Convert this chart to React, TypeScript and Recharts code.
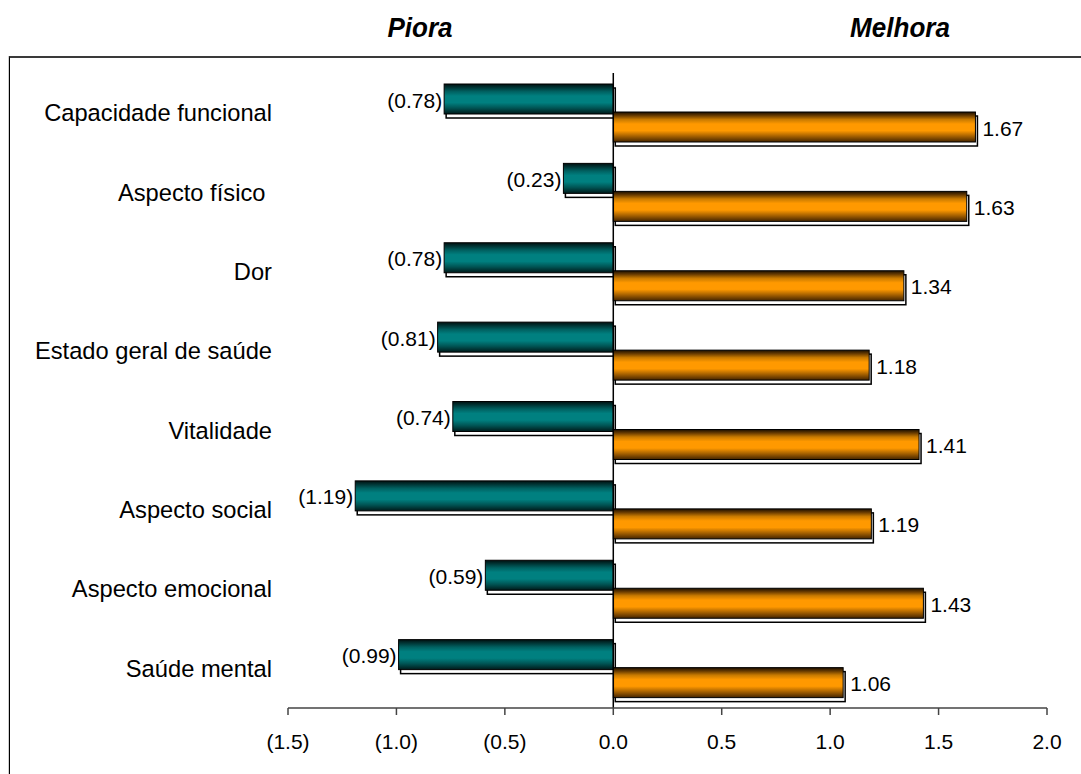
import React from "react";
import { BarChart, Bar, XAxis, YAxis, ReferenceLine, LabelList } from "recharts";

// Dimensions (SF-36) and the change score in each direction
const categories = [
  "Capacidade funcional",
  "Aspecto físico ",
  "Dor",
  "Estado geral de saúde",
  "Vitalidade",
  "Aspecto social",
  "Aspecto emocional",
  "Saúde mental",
];
const piora = [-0.78, -0.23, -0.78, -0.81, -0.74, -1.19, -0.59, -0.99];
const melhora = [1.67, 1.63, 1.34, 1.18, 1.41, 1.19, 1.43, 1.06];
const xTicks = [-1.5, -1.0, -0.5, 0, 0.5, 1.0, 1.5, 2.0];
const titles = { left: "Piora", right: "Melhora" };

const data = categories.map((name, i) => ({ name, piora: piora[i], melhora: melhora[i] }));

const FONT = "'Liberation Sans', Arial, Helvetica, sans-serif";

const fmt = (v: number, digits: number) =>
  v < 0 ? `(${Math.abs(v).toFixed(digits)})` : v.toFixed(digits);

// Bar with an offset white "shadow" box and a banded vertical gradient
const makeShape = (gradId: string) => (props: any) => {
  const { x, y, width, height } = props;
  const x0 = Math.min(x, x + width);
  const w = Math.abs(width);
  return (
    <g>
      <rect x={x0 + 2} y={y + 4} width={w} height={height} fill="#fff" stroke="#000" strokeWidth={1.5} />
      <rect x={x0} y={y} width={w} height={height} fill={`url(#${gradId})`} stroke="#000" strokeWidth={1} />
    </g>
  );
};

const makeLabel = (side: "left" | "right") => (props: any) => {
  const { x, y, width, height, value } = props;
  const x0 = Math.min(x, x + width);
  const w = Math.abs(width);
  const cy = y + height / 2;
  return (
    <text
      x={side === "left" ? x0 - 2 : x0 + w + 7}
      y={cy + 8.5}
      textAnchor={side === "left" ? "end" : "start"}
      fontSize={21}
      fontFamily={FONT}
      fill="#000"
    >
      {fmt(Number(value), 2)}
    </text>
  );
};

const CategoryTick = (props: any) => {
  const { x, y, payload } = props;
  return (
    <text
      x={x}
      y={y + 8.5}
      textAnchor="end"
      fontSize={23.7}
      fontFamily={FONT}
      fill="#000"
      style={{ whiteSpace: "pre" }}
    >
      {payload.value}
    </text>
  );
};

const titleStyle: React.CSSProperties = {
  position: "absolute",
  width: 200,
  top: 11,
  textAlign: "center",
  fontSize: 28,
  fontWeight: "bold",
  fontStyle: "italic",
  lineHeight: "34px",
  transform: "scaleX(0.93)",
};

export default function App() {
  return (
    <div
      style={{
        position: "absolute",
        left: 0,
        top: 0,
        width: 1081,
        height: 774,
        overflow: "hidden",
        background: "#fff",
        fontFamily: FONT,
      }}
    >
      <svg width={0} height={0} style={{ position: "absolute" }}>
        <defs>
          <linearGradient id="gradTeal" x1="0" y1="0" x2="0" y2="1">
            <stop offset="0%" stopColor="#001010" />
            <stop offset="12%" stopColor="#003636" />
            <stop offset="25%" stopColor="#006060" />
            <stop offset="40%" stopColor="#008080" />
            <stop offset="62%" stopColor="#008080" />
            <stop offset="80%" stopColor="#005454" />
            <stop offset="100%" stopColor="#001a1a" />
          </linearGradient>
          <linearGradient id="gradOrange" x1="0" y1="0" x2="0" y2="1">
            <stop offset="0%" stopColor="#1a0e00" />
            <stop offset="12%" stopColor="#6a3c00" />
            <stop offset="25%" stopColor="#c87a00" />
            <stop offset="40%" stopColor="#ff9900" />
            <stop offset="62%" stopColor="#ff9900" />
            <stop offset="80%" stopColor="#a86200" />
            <stop offset="100%" stopColor="#442400" />
          </linearGradient>
        </defs>
      </svg>

      {/* frame */}
      <div
        style={{
          position: "absolute",
          left: 9,
          top: 56,
          width: 1100,
          height: 800,
          borderTop: "2px solid #3a3a3a",
          borderLeft: "1px solid #000",
          boxShadow: "-1px 0 0 #cfcfcf",
        }}
      />

      {/* direction titles */}
      <div style={{ ...titleStyle, left: 320 }}>{titles.left}</div>
      <div style={{ ...titleStyle, left: 800 }}>{titles.right}</div>

      <div style={{ position: "absolute", left: 0, top: 0 }}>
        <BarChart
          width={1081}
          height={774}
          data={data}
          layout="vertical"
          margin={{ top: 73, right: 34, bottom: 36, left: 0 }}
          barSize={30}
          barGap={-2}
        >
          <XAxis
            type="number"
            domain={[-1.5, 2]}
            ticks={xTicks}
            interval={0}
            height={30}
            tickFormatter={(v: number) => fmt(v, 1)}
            axisLine={{ stroke: "#444", strokeWidth: 1.5 }}
            tickLine={{ stroke: "#444", strokeWidth: 1.5 }}
            tickSize={7}
            tickMargin={19}
            tick={{ fontSize: 21, fill: "#000", fontFamily: FONT }}
            allowDataOverflow
          />
          <YAxis
            type="category"
            dataKey="name"
            width={288}
            axisLine={false}
            tickLine={false}
            tickSize={0}
            tickMargin={16}
            tick={<CategoryTick />}
            interval={0}
          />
          <Bar dataKey="piora" isAnimationActive={false} shape={makeShape("gradTeal")}>
            <LabelList dataKey="piora" content={makeLabel("left")} />
          </Bar>
          <Bar dataKey="melhora" isAnimationActive={false} shape={makeShape("gradOrange")}>
            <LabelList dataKey="melhora" content={makeLabel("right")} />
          </Bar>
          <ReferenceLine x={0} stroke="#000" strokeWidth={1.5} />
        </BarChart>
      </div>
    </div>
  );
}
